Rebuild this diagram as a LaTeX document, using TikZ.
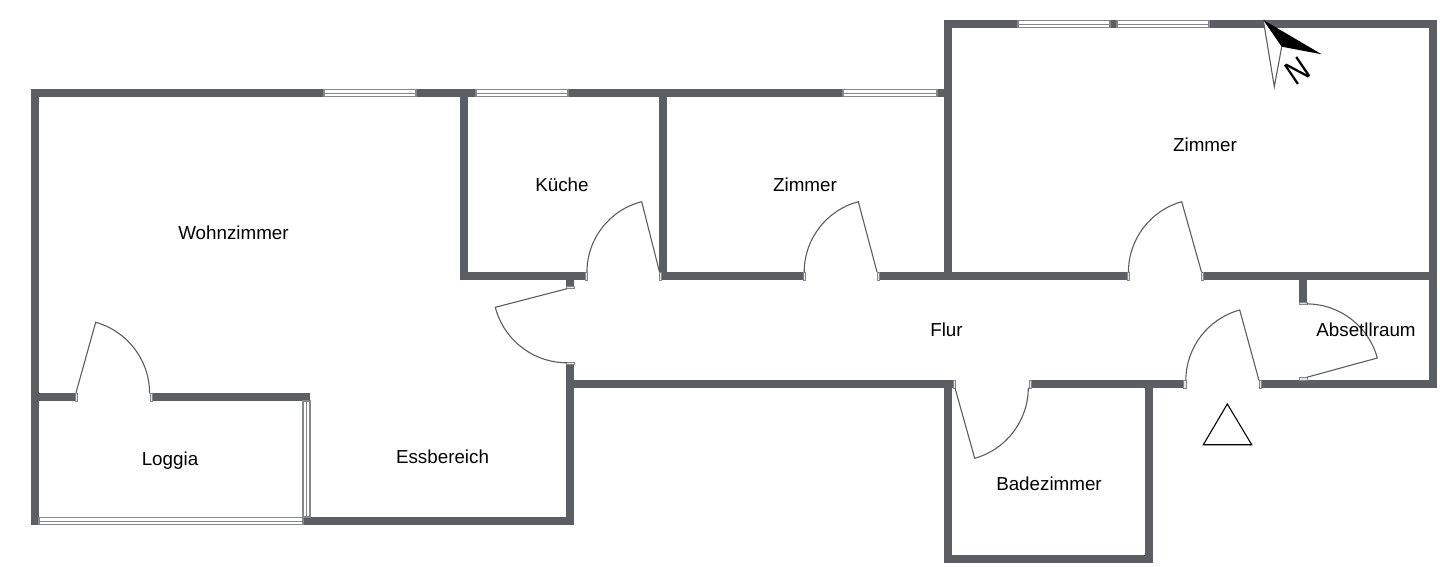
\documentclass[tikz,border=0pt]{standalone}
\usepackage{fontspec}
\setmainfont{Liberation Sans}
\tikzset{
  wall/.style={fill=wallgray},
  window/.style={draw=windowgray, line width=0.7pt, fill=white},
  windowbar/.style={draw=windowgray, line width=0.5pt},
  jamb/.style={draw=windowgray, line width=0.25pt, fill=jambgray},
  door/.style={draw=doorgray, line width=0.55pt},
  room/.style={font=\fontsize{9.4}{11}\selectfont, text=black, inner sep=0pt}
}
\definecolor{wallgray}{HTML}{5B5F63}
\definecolor{windowgray}{HTML}{85888B}
\definecolor{jambgray}{HTML}{E4E5E6}
\definecolor{doorgray}{HTML}{5A5D60}
\begin{document}
\begin{tikzpicture}[x=0.5pt, y=-0.5pt]
      \useasboundingbox (0, 0) rectangle (1440, 567);

      \fill [wall] (31, 89) rectangle (39, 525);
      \fill [wall] (31, 89) rectangle (324, 97);
      \fill [wall] (416, 89) rectangle (476, 97);
      \fill [wall] (568, 89) rectangle (843, 97);
      \fill [wall] (937, 89) rectangle (945, 97);
      \fill [wall] (460, 89) rectangle (468, 280);
      \fill [wall] (659, 89) rectangle (667, 280);
      \fill [wall] (460, 272) rectangle (585, 280);
      \fill [wall] (566, 280) rectangle (574, 287);
      \fill [wall] (661, 272) rectangle (803, 280);
      \fill [wall] (879, 272) rectangle (1127, 280);
      \fill [wall] (1203, 272) rectangle (1437, 280);
      \fill [wall] (944, 20) rectangle (952, 280);
      \fill [wall] (944, 20) rectangle (1018, 28);
      \fill [wall] (1110, 20) rectangle (1117, 28);
      \fill [wall] (1209, 20) rectangle (1437, 28);
      \fill [wall] (1429, 20) rectangle (1437, 388);
      \fill [wall] (1299, 280) rectangle (1307, 302);
      \fill [wall] (566, 364) rectangle (574, 525);
      \fill [wall] (574, 380) rectangle (953, 388);
      \fill [wall] (1031, 380) rectangle (1183, 388);
      \fill [wall] (1261, 380) rectangle (1437, 388);
      \fill [wall] (944, 388) rectangle (952, 563);
      \fill [wall] (1145, 388) rectangle (1153, 563);
      \fill [wall] (944, 555) rectangle (1153, 563);
      \fill [wall] (39, 393) rectangle (75, 401);
      \fill [wall] (152, 393) rectangle (310, 401);
      \fill [wall] (303, 517) rectangle (574, 525);

      \draw [window] (324, 89.5) rectangle (416, 96.5);
      \draw [windowbar] (324, 94) -- (416, 94);
      \draw [window] (476, 89.5) rectangle (568, 96.5);
      \draw [windowbar] (476, 94) -- (568, 94);
      \draw [window] (843, 89.5) rectangle (937, 96.5);
      \draw [windowbar] (843, 94) -- (937, 94);
      \draw [window] (1018, 20.5) rectangle (1110, 27.5);
      \draw [windowbar] (1018, 25) -- (1110, 25);
      \draw [window] (1117, 20.5) rectangle (1209, 27.5);
      \draw [windowbar] (1117, 25) -- (1209, 25);
      \draw [window] (303, 401) rectangle (310, 517);
      \draw [windowbar] (306.5, 401) -- (306.5, 517);
      \draw [window] (39, 517.5) rectangle (303, 524.5);
      \draw [windowbar] (39, 521) -- (303, 521);

      \draw [jamb] (585, 272) rectangle (587, 280);
      \draw [jamb] (566, 286.5) rectangle (574, 288.5);
      \draw [jamb] (566, 362) rectangle (574, 364);
      \draw [jamb] (659, 272) rectangle (661, 280);
      \draw [jamb] (803, 272) rectangle (805, 280);
      \draw [jamb] (877, 272) rectangle (879, 280);
      \draw [jamb] (1127, 272) rectangle (1129, 280);
      \draw [jamb] (1201, 272) rectangle (1203, 280);
      \draw [jamb] (1299, 302) rectangle (1307, 304);
      \draw [jamb] (1299, 377.5) rectangle (1307, 380);
      \draw [jamb] (953, 380) rectangle (955, 388);
      \draw [jamb] (1029, 380) rectangle (1031, 388);
      \draw [jamb] (1183, 380) rectangle (1186, 388);
      \draw [jamb] (1259, 380) rectangle (1261, 388);
      \draw [jamb] (75, 393) rectangle (77, 401);
      \draw [jamb] (150, 393) rectangle (152, 401);

      \draw [door] (659.5, 272) -- (641.7, 201.7) arc [start angle=255.8, end angle=180, radius=72.5];
      \draw [door] (877, 272) -- (858.3, 201.7) arc [start angle=255.1, end angle=180, radius=72.8];
      \draw [door] (1201.5, 272) -- (1181.7, 201.7) arc [start angle=254.3, end angle=180, radius=73];
      \draw [door] (1259, 380.5) -- (1239.7, 310) arc [start angle=254.7, end angle=180, radius=73.2];
      \draw [door] (76, 392.7) -- (95.7, 322.3) arc [start angle=-74.4, end angle=0, radius=73.7];
      \draw [door] (567, 288.7) -- (495.3, 307.3) arc [start angle=165.5, end angle=90, radius=74];
      \draw [door] (955, 388) -- (974.7, 458.3) arc [start angle=74.3, end angle=0, radius=73.5];
      \draw [door] (1306.7, 377.3) -- (1377.3, 358) arc [start angle=-15.3, end angle=-90, radius=73.5];

      \draw [line width=0.55pt, draw=black] (1227.3, 404) -- (1251.7, 444.7) -- (1203.3, 444.7) -- cycle;

      \fill [white] (1263.3, 20) -- (1274.3, 86.7) -- (1281.7, 46.7) -- cycle;
      \draw [door] (1263.3, 20) -- (1274.3, 86.7) -- (1281.7, 46.7);
      \fill [black] (1263.3, 20) -- (1321.7, 54.3) -- (1281.7, 46.7) -- cycle;

      \node [room] (wohnzimmer) at (233.5, 232.5) {Wohnzimmer};
      \node [room] (kueche) at (562, 184.5) {Küche};
      \node [room] (zimmerleft) at (805, 184.5) {Zimmer};
      \node [room] (zimmerright) at (1205, 144.5) {Zimmer};
      \node [room] (flur) at (946.5, 330) {Flur};
      \node [room] (abstellraum) at (1366, 329.5) {Absetllraum};
      \node [room] (loggia) at (170, 460.5) {Loggia};
      \node [room] (essbereich) at (442.5, 456.5) {Essbereich};
      \node [room] (badezimmer) at (1049, 484) {Badezimmer};
      \node [font=\fontsize{17}{18}\selectfont, inner sep=0pt, rotate=34, xscale=0.85] (north) at (1297.5, 71) {N};
\end{tikzpicture}
\end{document}
